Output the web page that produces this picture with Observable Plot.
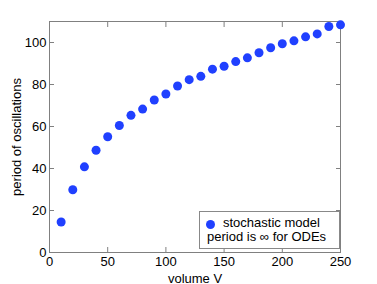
<!DOCTYPE html>
<html><head><meta charset="utf-8">
<script src="https://cdn.jsdelivr.net/npm/d3@7"></script>
<script src="https://cdn.jsdelivr.net/npm/@observablehq/plot@0.6"></script>
<style>
body{margin:0;background:#fff;}
#wrap{position:relative;width:377px;height:284px;font-family:"Liberation Sans",Arial,sans-serif;}
#legend{position:absolute;left:199px;top:211px;width:139px;height:36px;border:1px solid #888;background:#fff;font-size:13px;color:#000;line-height:13px;}
#legend .r1{position:absolute;left:23px;top:4px;white-space:nowrap;}
#legend .r2{position:absolute;left:7px;top:18px;white-space:nowrap;}
#legend .dot{position:absolute;left:6px;top:8px;width:9px;height:9px;border-radius:50%;background:#2040ff;}
</style></head>
<body><div id="wrap"></div>
<script>
const volume = [10,20,30,40,50,60,70,80,90,100,110,120,130,140,150,160,170,180,190,200,210,220,230,240,250];
const period = [14.5,29.9,40.8,48.7,55.1,60.5,65.3,68.3,72.6,75.5,79.3,82.3,83.9,87.3,88.7,90.9,92.7,95.1,97.5,99.4,100.8,102.7,104.1,107.6,108.4];
const xTicks = [0,50,100,150,200,250];
const yTicks = [0,20,40,60,80,100];
const legendLabels = ["stochastic model","period is \u221e for ODEs"];
const xLabel = "volume V";
const yLabel = "period of oscillations";

const data = volume.map((v,i)=>({v, p: period[i]}));
const axisColor = "#808080";
const chart = Plot.plot({
  width: 377, height: 284,
  marginLeft: 49, marginRight: 37, marginTop: 21, marginBottom: 32,
  style: {fontFamily: "Liberation Sans, Arial, sans-serif", fontSize: "13px", color: "#000", background: "#fff"},
  x: {domain: [0,250]},
  y: {domain: [0,110]},
  marks: [
    Plot.frame({stroke: axisColor}),
    Plot.axisX({ticks: xTicks, tickSize: -5, tickPadding: 9, stroke: axisColor, fill: "#000", label: xLabel, labelAnchor: "center", labelArrow: "none", labelOffset: 30}),
    Plot.axisX({anchor: "top", ticks: xTicks, tickSize: -5, tickFormat: () => "", stroke: axisColor, label: null}),
    Plot.axisY({ticks: yTicks, tickSize: -5, tickPadding: 8, stroke: axisColor, fill: "#000", label: yLabel, labelAnchor: "center", labelArrow: "none", labelOffset: 38}),
    Plot.axisY({anchor: "right", ticks: yTicks, tickSize: -5, tickFormat: () => "", stroke: axisColor, label: null}),
    Plot.dot(data, {x: "v", y: "p", r: 4.5, fill: "#2040ff", stroke: null})
  ]
});
const wrap = document.getElementById("wrap");
wrap.appendChild(chart);
const lg = document.createElement("div");
lg.id = "legend";
lg.innerHTML = `<div class="dot"></div><div class="r1">${legendLabels[0]}</div><div class="r2">${legendLabels[1]}</div>`;
wrap.appendChild(lg);
</script></body></html>
